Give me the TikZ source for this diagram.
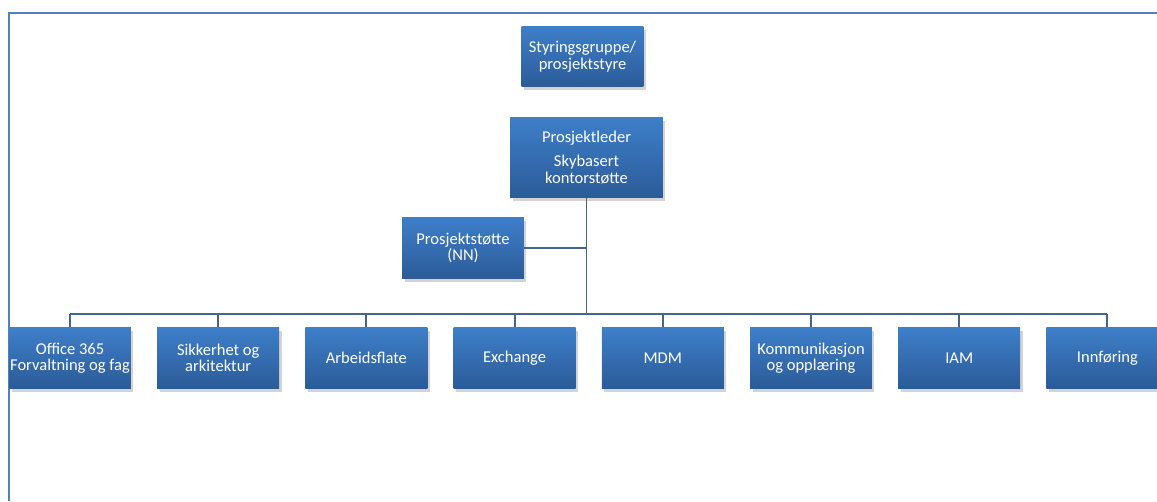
\documentclass[tikz,border=0pt]{standalone}
\usepackage{fontspec}
\setmainfont{Carlito}
\usetikzlibrary{positioning,shadows,calc}
\definecolor{boxtop}{RGB}{62,127,201}
\definecolor{boxbot}{RGB}{43,91,152}
\definecolor{wire}{RGB}{68,100,146}
\definecolor{frame}{RGB}{79,129,189}
\tikzset{
  orgbox/.style={rectangle,top color=boxtop,bottom color=boxbot,draw=none,
    text=white,align=center,inner sep=0.5pt,
    minimum width=2.44cm,minimum height=1.22cm,
    font=\fontsize{9.4}{9.4}\selectfont,
    drop shadow={opacity=0.35,shadow xshift=0.05cm,shadow yshift=-0.07cm}},
  link/.style={draw=wire,line width=1.1pt},
  border/.style={draw=frame,line width=1.3pt},
}
\begin{document}
\begin{tikzpicture}[x=0.02cm,y=-0.02cm]
  \useasboundingbox (0,0) rectangle (1157,501);
  % frame
  \draw[border] (9,501) -- (9,13) -- (1157,13);
  % top
  \node[orgbox] (styr) at (582.5,56.5) {Styringsgruppe/\\prosjektstyre};
  \node[orgbox,minimum width=3.06cm,minimum height=1.62cm] (leder) at (586.5,157.5)
    {Prosjektleder\\[0.16cm]Skybasert\\kontorstøtte};
  \node[orgbox,minimum height=1.24cm] (stotte) at (463,248) {Prosjektstøtte\\(NN)};
  \coordinate (bus) at (586.5,314);
  % bottom row
  \foreach \t [count=\i from 0] in {Office 365\\Forvaltning og fag,Sikkerhet og\\arkitektur,
      Arbeidsflate,Exchange,MDM,Kommunikasjon\\og opplæring,IAM,Innføring}{
    \node[orgbox] (b\i) at (70+148.2*\i,358) {\t};
  }
  % connectors
  \draw[link] (leder.south) -- (bus);
  \draw[link] (stotte.east) -- (stotte.east -| leder.south);
  \draw[link] (b0.north |- bus) -- (b7.north |- bus);
  \foreach \i in {0,...,7} \draw[link] (b\i.north) -- (b\i.north |- bus);
\end{tikzpicture}
\end{document}
